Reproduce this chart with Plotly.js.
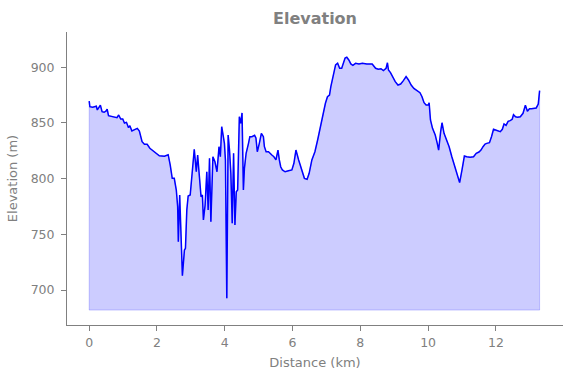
<!DOCTYPE html>
<html>
<head>
<meta charset="utf-8">
<script src="https://cdn.plot.ly/plotly-3.0.1.min.js"></script>
<style>html,body{margin:0;padding:0;background:#fff;}#chart{width:571px;height:378px;}</style>
</head>
<body>
<div id="chart"></div>
<script>
// Distance along the route (km)
const distanceKm = [
  0.00,0.02,0.10,0.21,0.24,0.33,0.38,0.44,0.50,0.53,0.57,0.65,0.82,0.87,0.93,0.99,1.04,1.10,1.16,1.20,
  1.26,1.34,1.42,1.48,1.56,1.63,1.71,1.79,1.89,1.99,2.07,2.22,2.33,2.39,2.45,2.51,2.57,2.61,2.63,2.67,
  2.71,2.75,2.81,2.84,2.88,2.92,2.98,3.04,3.10,3.16,3.20,3.26,3.30,3.34,3.37,3.42,3.47,3.51,3.55,3.59,
  3.65,3.71,3.77,3.83,3.87,3.91,3.95,3.99,4.02,4.06,4.10,4.14,4.18,4.22,4.26,4.30,4.34,4.38,4.43,4.47,
  4.51,4.55,4.58,4.63,4.70,4.74,4.80,4.88,4.92,4.96,5.02,5.08,5.14,5.17,5.22,5.29,5.39,5.45,5.51,5.57,
  5.61,5.65,5.70,5.78,5.88,5.98,6.04,6.10,6.18,6.28,6.35,6.43,6.49,6.57,6.66,6.74,6.82,6.90,6.97,7.03,
  7.09,7.13,7.19,7.27,7.33,7.39,7.45,7.49,7.55,7.60,7.66,7.72,7.78,7.86,7.96,8.06,8.19,8.35,8.45,8.53,
  8.61,8.68,8.76,8.80,8.83,8.89,8.95,9.03,9.11,9.19,9.27,9.35,9.42,9.50,9.58,9.66,9.76,9.82,9.88,9.94,
  10.01,10.03,10.07,10.13,10.21,10.27,10.31,10.37,10.41,10.47,10.54,10.62,10.70,10.78,10.86,10.93,11.00,11.07,11.14,11.24,
  11.34,11.42,11.50,11.56,11.62,11.68,11.73,11.81,11.87,11.93,11.99,12.05,12.13,12.19,12.24,12.30,12.36,12.42,12.48,12.52,
  12.58,12.64,12.72,12.80,12.87,12.93,12.99,13.05,13.13,13.19,13.25,13.29
];
// Elevation (m)
const elevationM = [
  869.7,864.6,864.1,865.0,861.7,866.1,860.1,859.6,860.8,862.5,856.5,856.0,854.7,857.2,853.6,853.6,850.0,850.6,845.8,847.6,
  842.8,844.0,845.2,842.8,833.2,830.9,830.9,827.3,824.8,821.9,820.6,820.1,821.5,812.3,800.3,800.3,789.8,774.8,743.4,785.3,
  737.5,712.8,735.9,737.5,771.9,784.4,785.3,807.8,826.4,806.2,821.2,798.8,783.8,785.3,762.9,776.3,806.2,771.8,818.3,761.3,
  819.7,815.2,806.2,828.7,819.7,846.7,837.7,831.7,816.8,692.6,839.2,825.7,804.8,759.9,822.8,758.4,788.3,789.8,855.6,849.7,
  859.0,789.8,809.3,822.8,831.7,837.7,837.7,838.9,836.5,824.2,831.7,840.7,837.7,828.7,824.2,824.2,821.2,819.7,816.8,825.7,
  816.8,810.7,807.8,806.2,807.1,807.8,813.8,825.7,816.8,807.8,800.3,799.4,804.8,816.8,824.2,834.7,846.7,858.7,867.7,873.6,
  875.1,882.6,891.6,902.1,903.6,899.1,899.1,903.6,908.4,909.0,906.6,903.0,901.8,903.6,903.0,903.6,903.0,903.0,899.1,898.2,
  898.7,897.0,899.1,904.1,897.6,895.2,891.6,887.1,884.1,885.0,888.0,891.6,888.6,884.1,881.1,879.0,877.2,873.6,868.2,866.1,
  866.1,868.2,852.7,845.2,839.2,831.7,825.7,842.2,850.2,840.7,834.7,828.7,819.7,812.3,804.2,796.5,807.8,820.3,819.7,819.2,
  819.7,822.8,823.9,825.7,828.7,831.1,831.7,832.3,837.7,844.3,843.7,843.1,842.2,844.3,849.1,847.9,851.5,852.1,853.3,857.4,
  855.6,855.1,855.6,858.7,865.9,860.5,862.8,862.8,863.5,863.5,867.0,879.0
];
const fillBase = 682;
const xTicks = [0, 2, 4, 6, 8, 10, 12];
const yTicks = [700, 750, 800, 850, 900];

const n = distanceKm.length;
const polyX = [distanceKm[0]].concat(distanceKm, [distanceKm[n - 1], distanceKm[0]]);
const polyY = [fillBase].concat(elevationM, [fillBase, fillBase]);

const gray = '#808080';
const font = 'DejaVu Sans, sans-serif';

const traces = [
  {
    x: polyX, y: polyY, type: 'scatter', mode: 'lines', fill: 'toself',
    fillcolor: 'rgba(0,0,255,0.2)', line: {color: 'rgba(0,0,255,0.2)', width: 1},
    hoverinfo: 'skip', showlegend: false
  },
  {
    x: distanceKm, y: elevationM, type: 'scatter', mode: 'lines',
    line: {color: '#0000ff', width: 1.5}, showlegend: false
  }
];

const layout = {
  width: 571, height: 378,
  margin: {l: 67, r: 8, t: 32, b: 53},
  paper_bgcolor: '#ffffff', plot_bgcolor: '#ffffff',
  font: {family: font, color: gray, size: 12},
  title: {
    text: '<b>Elevation</b>', font: {family: font, size: 16, color: gray},
    x: 0.5, xanchor: 'center', xref: 'paper', y: 0.952, yref: 'container', yanchor: 'middle'
  },
  xaxis: {
    range: [-0.655, 13.98], tickvals: xTicks, ticktext: xTicks.map(String),
    showgrid: false, zeroline: false, showline: true, linecolor: gray, linewidth: 1,
    ticks: 'outside', ticklen: 5, tickcolor: gray, tickfont: {size: 12.5, color: gray},
    ticklabelstandoff: 1,
    title: {text: 'Distance (km)', font: {size: 13, color: gray}, standoff: 8}
  },
  yaxis: {
    range: [668.6, 931.7], tickvals: yTicks, ticktext: yTicks.map(String),
    showgrid: false, zeroline: false, showline: true, linecolor: gray, linewidth: 1,
    ticks: 'outside', ticklen: 5, tickcolor: gray, tickfont: {size: 12.5, color: gray},
    ticklabelstandoff: 4,
    title: {text: 'Elevation (m)', font: {size: 13, color: gray}, standoff: 10}
  }
};

Plotly.newPlot('chart', traces, layout, {displayModeBar: false, staticPlot: true});
</script>
</body>
</html>
